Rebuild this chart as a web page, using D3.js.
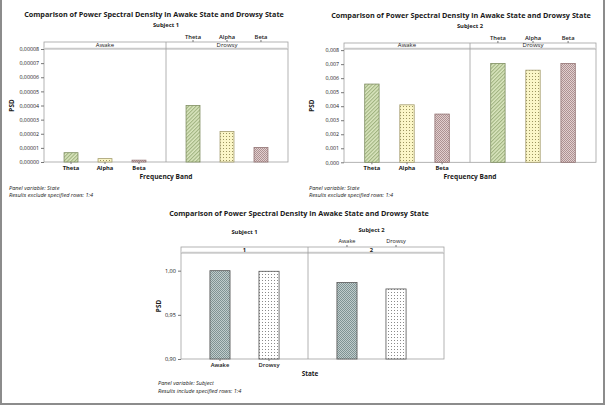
<!DOCTYPE html>
<html>
<head>
<meta charset="utf-8">
<script src="https://cdn.jsdelivr.net/npm/d3@7"></script>
<style>
  body { margin: 0; background: #fff; }
  svg { display: block; }
  text { font-family: "Open Sans", sans-serif; fill: #1a1a1a; }
</style>
</head>
<body>
<svg id="chart" width="605" height="405"></svg>
<script>
// data
const bands = ["Theta", "Alpha", "Beta"];
const states = ["Awake", "Drowsy"];
const subjects = ["1", "2"];

const subj1Awake = [0.0000066, 0.0000024, 0.0000013];
const subj1Drowsy = [0.0000400, 0.0000216, 0.0000103];
const subj1Ticks = [0, 0.00001, 0.00002, 0.00003, 0.00004, 0.00005, 0.00006, 0.00007, 0.00008];

const subj2Awake = [0.00558, 0.00410, 0.00344];
const subj2Drowsy = [0.00705, 0.00657, 0.00704];
const subj2Ticks = [0, 0.001, 0.002, 0.003, 0.004, 0.005, 0.006, 0.007, 0.008];

const ratioAwake = [1.000, 0.9865];
const ratioDrowsy = [0.9993, 0.9793];
const ratioTicks = [0.90, 0.95, 1.00];

const mainTitle = "Comparison of Power Spectral Density in Awake State and Drowsy State";

const svg = d3.select("#chart");
const defs = svg.append("defs");

// fill patterns
function checker(id, bg, fg) {
  const p = defs.append("pattern").attr("id", id)
    .attr("patternUnits", "userSpaceOnUse").attr("width", 2).attr("height", 2);
  p.append("rect").attr("width", 2).attr("height", 2).attr("fill", bg);
  p.append("rect").attr("width", 1).attr("height", 1).attr("fill", fg);
  p.append("rect").attr("x", 1).attr("y", 1).attr("width", 1).attr("height", 1).attr("fill", fg);
}
function dots(id, bg, fg) {
  const p = defs.append("pattern").attr("id", id)
    .attr("patternUnits", "userSpaceOnUse").attr("width", 3).attr("height", 3);
  p.append("rect").attr("width", 3).attr("height", 3).attr("fill", bg);
  p.append("rect").attr("x", 1).attr("y", 1).attr("width", 1).attr("height", 1).attr("fill", fg);
}
function hatch(id, bg, fg) {
  const p = defs.append("pattern").attr("id", id)
    .attr("patternUnits", "userSpaceOnUse").attr("width", 2.6).attr("height", 2.6)
    .attr("patternTransform", "rotate(45)");
  p.append("rect").attr("width", 2.6).attr("height", 2.6).attr("fill", bg);
  p.append("line").attr("x1", 0.6).attr("x2", 0.6).attr("y1", 0).attr("y2", 2.6)
    .attr("stroke", fg).attr("stroke-width", 0.9);
}
hatch("pTheta", "#dbe6bf", "#93a872");
dots("pAlpha", "#fbf6c8", "#9c9560");
checker("pBeta", "#e2cfcf", "#ad9292");
checker("pAwake", "#c0cccc", "#7f9393");
dots("pDrowsy", "#ffffff", "#8a8a8a");

const bandFill = { Theta: "url(#pTheta)", Alpha: "url(#pAlpha)", Beta: "url(#pBeta)" };
const bandStroke = { Theta: "#7f8e62", Alpha: "#a39c6e", Beta: "#927373" };
const stateFill = { Awake: "url(#pAwake)", Drowsy: "url(#pDrowsy)" };

const commaFmt = (spec) => (d) => d3.format(spec)(d).replace(".", ",");

function styleAxis(g) {
  g.select(".domain").remove();
  g.selectAll(".tick line").attr("stroke", "#777");
  g.selectAll(".tick text").attr("fill", "#1a1a1a").style("font-family", '"Open Sans", sans-serif');
}

function addText(x, y, txt, size, weight, anchor, style) {
  return svg.append("text").attr("x", x).attr("y", y)
    .attr("text-anchor", anchor || "middle")
    .style("font-size", size + "px")
    .style("font-weight", weight || "normal")
    .style("font-style", style || "normal")
    .text(txt);
}

// one subject, panelled by state (top charts)
function stateChart(o) {
  const y = d3.scaleLinear().domain([0, o.yMax]).range([o.bottom, o.stripBottom]);
  const xAwake = d3.scaleBand().domain(bands).range([o.left, o.div]).padding(0.59);
  const xDrowsy = d3.scaleBand().domain(bands).range([o.div, o.right]).padding(0.59);

  // frame + strip
  svg.append("rect").attr("x", o.left).attr("y", o.top)
    .attr("width", o.right - o.left).attr("height", o.bottom - o.top)
    .attr("fill", "none").attr("stroke", "#a0a0a0").attr("stroke-width", 0.8);
  svg.append("rect").attr("x", o.left).attr("y", o.stripBottom - 1.5)
    .attr("width", o.right - o.left).attr("height", 1.5).attr("fill", "#e6e6e6");
  svg.append("line").attr("x1", o.left).attr("x2", o.right)
    .attr("y1", o.stripBottom).attr("y2", o.stripBottom)
    .attr("stroke", "#a0a0a0").attr("stroke-width", 0.8);
  svg.append("line").attr("x1", o.div).attr("x2", o.div)
    .attr("y1", o.top).attr("y2", o.bottom)
    .attr("stroke", "#a0a0a0").attr("stroke-width", 0.8);

  addText((o.left + o.div) / 2, o.stripBottom - 1.8, "Awake", 6);
  addText((o.div + o.right) / 2, o.stripBottom - 1.8, "Drowsy", 6);

  const bars = [
    { x: xAwake, vals: o.awake },
    { x: xDrowsy, vals: o.drowsy }
  ];
  bars.forEach(({ x, vals }) => {
    svg.append("g").selectAll("rect")
      .data(bands.map((b, i) => ({ band: b, v: vals[i] })))
      .join("rect")
      .attr("x", (d) => x(d.band))
      .attr("width", x.bandwidth())
      .attr("y", (d) => y(d.v))
      .attr("height", (d) => o.bottom - y(d.v))
      .attr("fill", (d) => bandFill[d.band])
      .attr("stroke", (d) => bandStroke[d.band])
      .attr("stroke-width", 0.8);
  });

  svg.append("g").attr("transform", `translate(${o.left},0)`)
    .call(d3.axisLeft(y).tickValues(o.ticks).tickFormat(commaFmt(o.fmt)).tickSize(3).tickPadding(2))
    .call(styleAxis)
    .selectAll("text").style("font-size", "5.3px");

  svg.append("g").attr("transform", `translate(0,${o.bottom})`)
    .call(d3.axisBottom(xAwake).tickSize(2).tickPadding(2))
    .call(styleAxis)
    .selectAll("text").style("font-size", "5.8px").style("font-weight", "bold");

  svg.append("g").attr("transform", `translate(0,${o.top})`)
    .call(d3.axisTop(xDrowsy).tickSize(2).tickPadding(1.5))
    .call(styleAxis)
    .selectAll("text").style("font-size", "5.8px").style("font-weight", "600");

  addText(o.titleX, o.titleY, mainTitle, 7.25, "bold");
  addText((o.left + o.right) / 2, o.titleY + 10, o.subtitle, 5.8, "bold");
  addText((o.left + o.right) / 2, o.bottom + 16.5, "Frequency Band", 6.6, "bold");
  svg.append("text")
    .attr("transform", `translate(${o.left - 30},${(o.stripBottom + o.bottom) / 2}) rotate(-90)`)
    .attr("text-anchor", "middle").style("font-size", "6.4px").style("font-weight", "bold")
    .text("PSD");
  addText(o.footX, o.bottom + 28, "Panel variable: State", 5.6, "normal", "start", "italic");
  addText(o.footX, o.bottom + 34.5, "Results exclude specified rows: 1:4", 5.6, "normal", "start", "italic");
}

stateChart({
  left: 44, div: 166, right: 288, top: 42, stripBottom: 49, bottom: 162,
  yMax: 0.00008, ticks: subj1Ticks, fmt: ".5f",
  awake: subj1Awake, drowsy: subj1Drowsy,
  titleX: 154, titleY: 17, subtitle: "Subject 1", footX: 9
});

stateChart({
  left: 344, div: 470, right: 596, top: 43, stripBottom: 49, bottom: 162.3,
  yMax: 0.00808, ticks: subj2Ticks, fmt: ".3f",
  awake: subj2Awake, drowsy: subj2Drowsy,
  titleX: 461, titleY: 18, subtitle: "Subject 2", footX: 309
});

// bottom chart: ratio by state, panelled by subject
(function () {
  const left = 181, div = 308, p2Right = 435, right = 444;
  const top = 247, stripBottom = 253, bottom = 359;
  const y = d3.scaleLinear().domain([0.90, 1.02]).range([bottom, stripBottom]);
  const x1 = d3.scaleBand().domain(states).range([left, div]).padding(0.59);
  const x2 = d3.scaleBand().domain(states).range([div, p2Right]).padding(0.59);

  svg.append("rect").attr("x", left).attr("y", top)
    .attr("width", right - left).attr("height", bottom - top)
    .attr("fill", "none").attr("stroke", "#a0a0a0").attr("stroke-width", 0.8);
  svg.append("rect").attr("x", left).attr("y", stripBottom - 1.5)
    .attr("width", right - left).attr("height", 1.5).attr("fill", "#e6e6e6");
  svg.append("line").attr("x1", left).attr("x2", right)
    .attr("y1", stripBottom).attr("y2", stripBottom)
    .attr("stroke", "#a0a0a0").attr("stroke-width", 0.8);
  svg.append("line").attr("x1", div).attr("x2", div)
    .attr("y1", top).attr("y2", bottom)
    .attr("stroke", "#a0a0a0").attr("stroke-width", 0.8);

  addText((left + div) / 2, stripBottom - 1.5, subjects[0], 5.8, "bold");
  addText((div + p2Right) / 2, stripBottom - 1.5, subjects[1], 5.8, "bold");

  [{ x: x1, i: 0 }, { x: x2, i: 1 }].forEach(({ x, i }) => {
    svg.append("g").selectAll("rect")
      .data(states.map((s) => ({ state: s, v: s === "Awake" ? ratioAwake[i] : ratioDrowsy[i] })))
      .join("rect")
      .attr("x", (d) => x(d.state))
      .attr("width", x.bandwidth())
      .attr("y", (d) => y(d.v))
      .attr("height", (d) => bottom - y(d.v))
      .attr("fill", (d) => stateFill[d.state])
      .attr("stroke", "#555")
      .attr("stroke-width", 0.8);
  });

  svg.append("g").attr("transform", `translate(${left},0)`)
    .call(d3.axisLeft(y).tickValues(ratioTicks).tickFormat(commaFmt(".2f")).tickSize(3).tickPadding(2))
    .call(styleAxis)
    .selectAll("text").style("font-size", "5.6px");

  svg.append("g").attr("transform", `translate(0,${bottom})`)
    .call(d3.axisBottom(x1).tickSize(2).tickPadding(2))
    .call(styleAxis)
    .selectAll("text").style("font-size", "5.8px").style("font-weight", "600");

  svg.append("g").attr("transform", `translate(0,${top})`)
    .call(d3.axisTop(x2).tickSize(2).tickPadding(2))
    .call(styleAxis)
    .selectAll("text").style("font-size", "5.6px").style("font-weight", "normal");

  addText(299, 216, mainTitle, 7.25, "bold");
  addText((left + div) / 2, 233.5, "Subject " + subjects[0], 5.8, "bold");
  addText((div + p2Right) / 2, 232, "Subject " + subjects[1], 5.8, "bold");
  addText(310, 376, "State", 6.4, "bold");
  svg.append("text")
    .attr("transform", `translate(${left - 20},${(stripBottom + bottom) / 2}) rotate(-90)`)
    .attr("text-anchor", "middle").style("font-size", "6.4px").style("font-weight", "bold")
    .text("PSD");
  addText(158, 385, "Panel variable: Subject", 5.6, "normal", "start", "italic");
  addText(158, 392.5, "Results include specified rows: 1:4", 5.6, "normal", "start", "italic");
})();

// page frame
svg.append("path")
  .attr("d", "M1,0 V404 H604 V0")
  .attr("fill", "none").attr("stroke", "#8c8c8c").attr("stroke-width", 2);
</script>
</body>
</html>
